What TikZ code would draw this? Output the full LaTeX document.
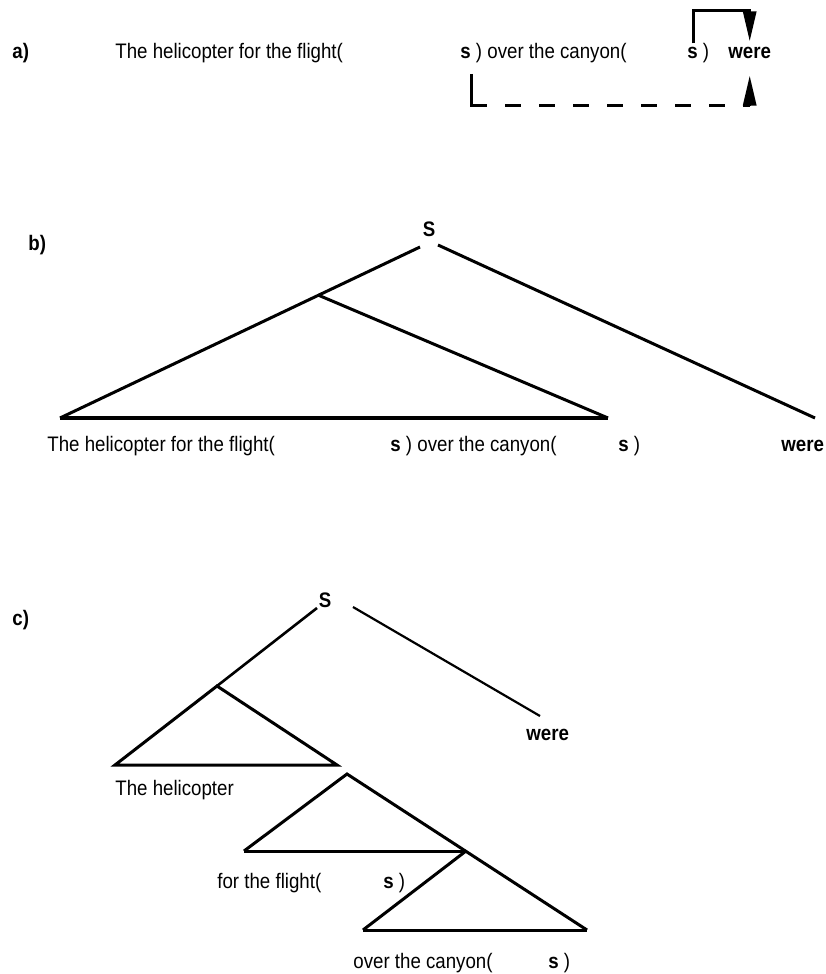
\documentclass[tikz,border=0pt]{standalone}
\usepackage{fontspec}
\setmainfont{Liberation Sans}[FakeStretch=0.89]
\usetikzlibrary{arrows.meta}

\begin{document}
\begin{tikzpicture}[x=0.5pt,y=-0.5pt,font=\fontsize{10.5}{12}\selectfont,
    word/.style={anchor=base west,inner sep=0pt},
    arc/.style={line width=1.5pt},
    base/.style={line width=2pt},
    tip/.style={-{Triangle[length=15pt,width=6.5pt]}}]
  \useasboundingbox (0,0) rectangle (825,974);
  % a) the sentence with its two agreement arrows
  \node[word] (la) at (12,59) {\textbf{a)}};
  \node[word] (a1) at (115,59) {The helicopter for the flight(};
  \node[word] (a2) at (460,59) {\textbf{s} ) over the canyon(};
  \node[word] (a3) at (687,59) {\textbf{s} )};
  \node[word] (a4) at (728,59) {\textbf{were}};
  \draw[arc,tip] ([xshift=3pt]a3.north west) -- ++(0,-33) -| ([yshift=3pt]a4.north);
  \coordinate (a-from) at (471,74);
  \coordinate (a-turn) at (471,106);
  \draw[arc] (a-from) -- (a-turn) -- ++(16,0);
  \draw[arc,dash pattern=on 8pt off 9pt] (a-turn) -- (a-turn -| a4);
  \draw[arc,tip] (a-turn -| a4) -- ([yshift=-8pt]a4.south);
  % b) flat tree
  \node[word] (lb) at (28,250) {\textbf{b)}};
  \node[word,anchor=base] (Sb) at (429,236) {\textbf{S}};
  \coordinate (b-sl) at (420,247);
  \coordinate (b-sr) at (438,245);
  \coordinate (b-np) at (318,295);
  \coordinate (b-l) at (60,418);
  \coordinate (b-r) at (608,418);
  \coordinate (b-v) at (815,418);
  \draw[arc] (b-sl) -- (b-l);
  \draw[arc] (b-np) -- (b-r);
  \draw[base] (b-l) -- (b-r);
  \draw[arc] (b-sr) -- (b-v);
  \node[word] (b1) at (47,451) {The helicopter for the flight(};
  \node[word] (b2) at (390,451) {\textbf{s} ) over the canyon(};
  \node[word] (b3) at (618,451) {\textbf{s} )};
  \node[word] (b4) at (781,451) {\textbf{were}};
  % c) nested tree
  \node[word] (lc) at (12,625) {\textbf{c)}};
  \node[word,anchor=base] (Sc) at (325,607) {\textbf{S}};
  \coordinate (c-sl) at (317,608);
  \coordinate (c-sr) at (353,607);
  \coordinate (c-v) at (540,716);
  \coordinate (c-np1) at (217,686);
  \coordinate (c-l1) at (115,765);
  \coordinate (c-r1) at (337,765);
  \coordinate (c-np2) at (347,774);
  \coordinate (c-l2) at (244,851);
  \coordinate (c-np3) at (466,851);
  \coordinate (c-l3) at (363,930);
  \coordinate (c-r3) at (587,930);
  \draw[arc,line width=1.3pt] (c-sl) -- (c-np1);
  \draw[arc,line width=1.1pt] (c-sr) -- (c-v);
  \draw[arc] (c-l1) -- (c-np1) -- (c-r1) -- cycle;
  \draw[arc] (c-l2) -- (c-np2) -- (c-r3);
  \draw[arc] (c-l2) -- (c-np3);
  \draw[arc] (c-l3) -- (c-np3);
  \draw[arc] (c-l3) -- (c-r3);
  \node[word] (c0) at (526,740) {\textbf{were}};
  \node[word] (c1) at (115,795) {The helicopter};
  \node[word] (c2) at (217,888) {for the flight(};
  \node[word] (c3) at (383,888) {\textbf{s} )};
  \node[word] (c4) at (353,968) {over the canyon(};
  \node[word] (c5) at (548,968) {\textbf{s} )};
\end{tikzpicture}
\end{document}
